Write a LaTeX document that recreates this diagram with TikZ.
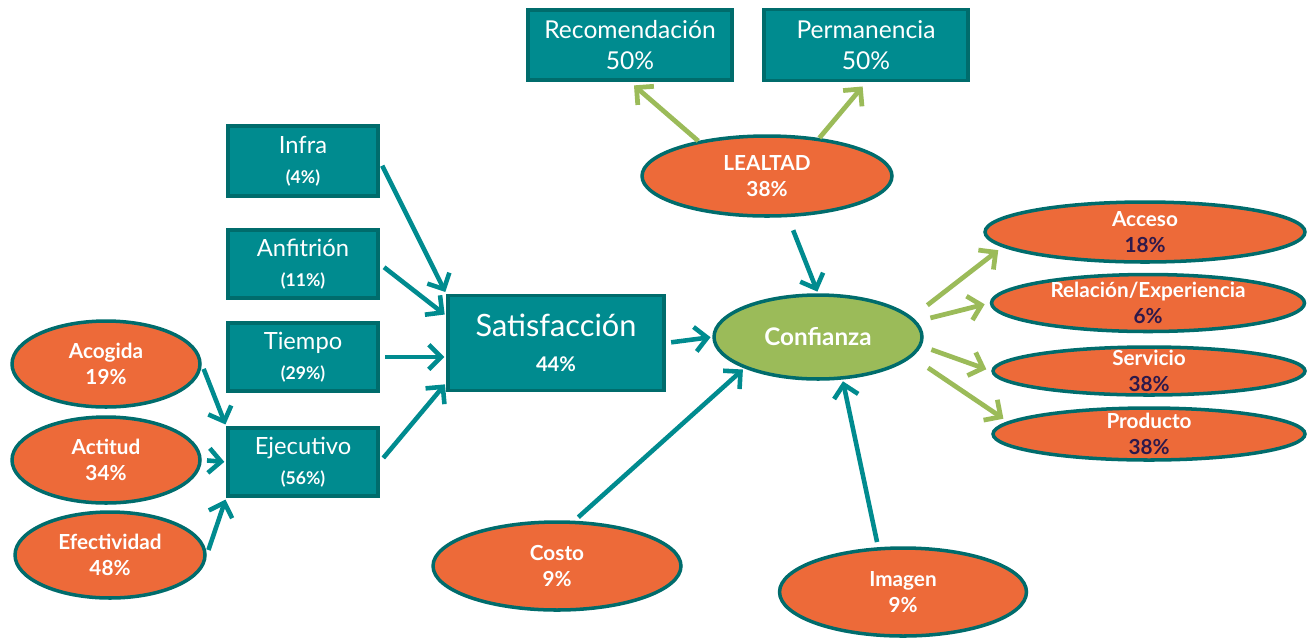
\documentclass[tikz,border=0pt]{standalone}
\usepackage{fontspec}
\setmainfont{Lato}
\usetikzlibrary{shapes.geometric,arrows.meta}

\definecolor{tealfill}{RGB}{0,139,143}
\definecolor{tealedge}{RGB}{0,108,108}
\definecolor{orangefill}{RGB}{237,106,57}
\definecolor{greenfill}{RGB}{155,187,89}
\definecolor{pctpurple}{RGB}{45,25,75}

\begin{document}
\begin{tikzpicture}[x=0.02cm,y=-0.02cm]

% --- Global TikZ Styles ---
\tikzset{
    tealbox/.style={
        fill=tealfill,
        draw=tealedge,
        line width=2.2pt,
        text=white,
        align=center,
        inner sep=0pt,
        font=\fontsize{13.5}{17}\selectfont
    },
    orangeoval/.style={
        ellipse,
        fill=orangefill,
        draw=tealedge,
        line width=2pt,
        text=white,
        align=center,
        inner sep=-1cm,
        font=\bfseries\fontsize{11.8}{15}\selectfont
    },
    greenoval/.style={
        orangeoval,
        fill=greenfill,
        font=\bfseries\fontsize{13.8}{15}\selectfont
    },
    tealarrow/.style={
        -{Straight Barb[length=7pt,width=14pt]},
        line width=2.6pt,
        draw=tealfill,
        shorten >=1pt,
        shorten <=3pt
    },
    greenarrow/.style={
        -{Straight Barb[length=7pt,width=14pt]},
        line width=2.7pt,
        draw=greenfill,
        shorten >=3pt
    }
}
\newcommand{\subpct}[1]{{\bfseries\fontsize{10}{10}\selectfont(#1\%)}}

\useasboundingbox (0,0) rectangle (1310,637);

% ==================================================
% --- Loyalty ---
% ==================================================

\node[tealbox,minimum width=4.08cm,minimum height=1.4cm,
      font=\fontsize{14}{18}\selectfont] (rec) at (630,45) {Recomendación\\50\%};
\node[tealbox,minimum width=4.08cm,minimum height=1.42cm,
      font=\fontsize{14}{18}\selectfont] (perm) at (866,45) {Permanencia\\50\%};

\node[orangeoval,minimum width=5cm,minimum height=1.6cm] (lealtad) at (767,176) {LEALTAD\\38\%};

% ==================================================
% --- Drivers of satisfaction ---
% ==================================================

\node[tealbox,minimum width=3cm,minimum height=1.4cm] (infra) at (303,161) {Infra\\\subpct{4}};
\node[tealbox,minimum width=3cm,minimum height=1.36cm] (anfi) at (303,264) {Anfitrión\\\subpct{11}};
\node[tealbox,minimum width=3cm,minimum height=1.36cm] (tiempo) at (303,357) {Tiempo\\\subpct{29}};
\node[tealbox,minimum width=3cm,minimum height=1.36cm] (ejec) at (303,462) {Ejecutivo\\\subpct{56}};

\node[orangeoval,minimum width=3.76cm,minimum height=1.72cm] (acog) at (106,364) {Acogida\\19\%};
\node[orangeoval,minimum width=3.76cm,minimum height=1.72cm] (actit) at (106,460) {Actitud\\34\%};
\node[orangeoval,minimum width=3.8cm,minimum height=1.72cm] (efect) at (110,555) {Efectividad\\48\%};

\node[tealbox,minimum width=4.32cm,minimum height=1.9cm,
      font=\fontsize{17.5}{20}\selectfont] (sat) at (556,343)
      {Satisfacción\\{\bfseries\fontsize{11.5}{12}\selectfont 44\%}};

% ==================================================
% --- Trust ---
% ==================================================

\node[greenoval,minimum width=4.16cm,minimum height=1.68cm] (conf) at (818,337) {Confianza};

\node[orangeoval,minimum width=4.96cm,minimum height=1.76cm] (costo) at (557,566) {Costo\\9\%};
\node[orangeoval,minimum width=4.94cm,minimum height=1.76cm] (imagen) at (903,592) {Imagen\\9\%};

\node[orangeoval,minimum width=6.4cm,minimum height=1.2cm] (acceso) at (1145,232)
      {Acceso\\\textcolor{pctpurple}{18\%}};
\node[orangeoval,minimum width=6.26cm,minimum height=1.14cm] (relac) at (1148,303)
      {Relación/Experiencia\\\textcolor{pctpurple}{6\%}};
\node[orangeoval,minimum width=6.24cm,minimum height=0.96cm] (serv) at (1149,371)
      {Servicio\\\textcolor{pctpurple}{38\%}};
\node[orangeoval,minimum width=6.24cm,minimum height=1.04cm] (prod) at (1149,434)
      {Producto\\\textcolor{pctpurple}{38\%}};

% ==================================================
% --- Arrows ---
% ==================================================

% Into Ejecutivo
\draw[tealarrow] (acog.east) -- (ejec.north west);
\draw[tealarrow] (actit.east) -- (ejec.west);
\draw[tealarrow] (efect.east) -- (ejec.south west);

% Into Satisfaccion
\draw[tealarrow] (infra.east) -- (sat.north west);
\draw[tealarrow] (anfi.east) -- (sat.166);
\draw[tealarrow] (tiempo.east) -- (tiempo.east -| sat.west);
\draw[tealarrow] (ejec.east) -- (sat.200);

% Into Confianza
\draw[tealarrow] (sat.east) -- (conf.west);
\draw[tealarrow] (costo.69) -- (conf.203);
\draw[tealarrow] (imagen.119) -- (conf.-60);
\draw[tealarrow,shorten <=8pt] (lealtad.-63) -- (conf.north);

% Out of Lealtad
\draw[greenarrow] (lealtad.153) -- (rec.south);
\draw[greenarrow] (lealtad.36) -- (perm.south);

% Out of Confianza
\draw[greenarrow,shorten <=11pt] (conf.12) -- (acceso.186);
\draw[greenarrow,shorten <=8pt] (conf.9) -- (relac.west);
\draw[greenarrow,shorten <=6pt] (conf.-5) -- (serv.west);
\draw[greenarrow,shorten <=11pt] (conf.-12) -- (prod.175);

\end{tikzpicture}
\end{document}
